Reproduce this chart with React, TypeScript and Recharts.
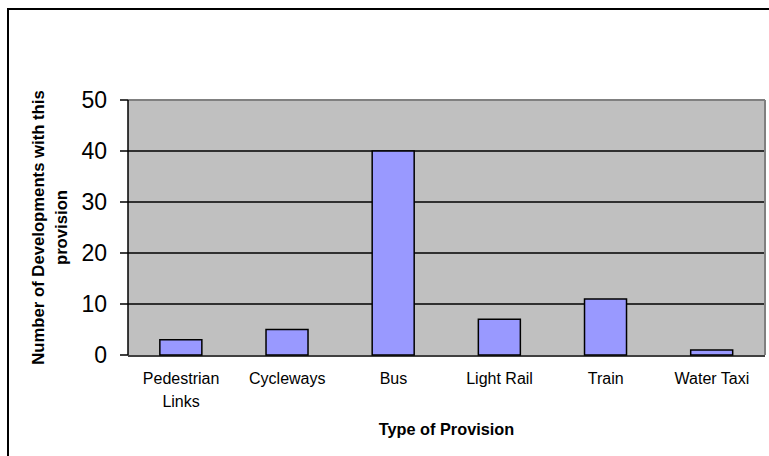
import React from 'react';
import { BarChart, Bar, XAxis, YAxis, CartesianGrid, Text } from 'recharts';

const provisionTypes = ['Pedestrian Links', 'Cycleways', 'Bus', 'Light Rail', 'Train', 'Water Taxi'];
const developmentCounts = [3, 5, 40, 7, 11, 1];
const countTicks = [0, 10, 20, 30, 40, 50];
const edgeTicks = [0, 1, 2, 3, 4, 5, 6];

const data = provisionTypes.map((name, i) => ({ name, count: developmentCounts[i] }));

const FONT = '"Liberation Sans", Arial, sans-serif';

const CategoryTick = (props: any) => {
    const { x, y, payload } = props;
    return (
        <Text
            x={x}
            y={y}
            width={96}
            textAnchor="middle"
            verticalAnchor="start"
            lineHeight={23}
            fontSize={16}
            fontFamily={FONT}
            fill="#000"
        >
            {payload.value}
        </Text>
    );
};

const YTitle = (props: any) => {
    const { viewBox } = props;
    const cy = viewBox.y + viewBox.height / 2;
    const cx = 50;
    return (
        <text
            transform={`rotate(-90, ${cx}, ${cy})`}
            x={cx}
            y={cy}
            textAnchor="middle"
            fontSize={16.7}
            fontWeight="bold"
            fontFamily={FONT}
            fill="#000"
        >
            <tspan x={cx} dy={-6}>Number of Developments with this</tspan>
            <tspan x={cx} dy={23}>provision</tspan>
        </text>
    );
};

const XTitle = (props: any) => {
    const { viewBox } = props;
    return (
        <text
            x={viewBox.x + viewBox.width / 2}
            y={viewBox.y + 80}
            textAnchor="middle"
            fontSize={16.3}
            fontWeight="bold"
            fontFamily={FONT}
            fill="#000"
        >
            Type of Provision
        </text>
    );
};

export default function App() {
    return (
        <div style={{ position: 'absolute', left: 0, top: 0, width: 769, height: 456, overflow: 'hidden', background: '#fff' }}>
            <div
                style={{
                    position: 'absolute',
                    left: 7,
                    top: 8,
                    width: 800,
                    height: 500,
                    borderLeft: '2px solid #000',
                    borderTop: '2px solid #000',
                }}
            />
            <div style={{ position: 'absolute', left: 0, top: 0 }}>
                <BarChart
                    width={769}
                    height={456}
                    data={data}
                    margin={{ top: 100, right: 4, bottom: 99, left: 8 }}
                    barCategoryGap="30%"
                >
                    <CartesianGrid
                        xAxisId="cat"
                        vertical={false}
                        horizontalValues={[10, 20, 30, 40]}
                        stroke="#000"
                        strokeWidth={1.5}
                        fill="#C0C0C0"
                        fillOpacity={1}
                    />
                    <CartesianGrid
                        xAxisId="cat"
                        horizontalValues={[50]}
                        verticalCoordinatesGenerator={({ offset }: any) => [offset.left + offset.width]}
                        stroke="#808080"
                        strokeWidth={2}
                    />
                    <XAxis
                        xAxisId="edges"
                        type="number"
                        domain={[0, 6]}
                        allowDataOverflow
                        ticks={edgeTicks}
                        height={1}
                        tick={false}
                        tickSize={6}
                        axisLine={{ stroke: '#000', strokeWidth: 1.5 }}
                        tickLine={{ stroke: '#000', strokeWidth: 1.5 }}
                    />
                    <XAxis
                        xAxisId="cat"
                        dataKey="name"
                        height={1}
                        axisLine={false}
                        tickLine={false}
                        tickSize={0}
                        tickMargin={18}
                        interval={0}
                        tick={<CategoryTick />}
                        label={<XTitle />}
                    />
                    <YAxis
                        width={120}
                        domain={[0, 50]}
                        ticks={countTicks}
                        interval={0}
                        tickSize={8}
                        tickMargin={13}
                        axisLine={{ stroke: '#000', strokeWidth: 1.5 }}
                        tickLine={{ stroke: '#000', strokeWidth: 1.5 }}
                        tick={{ fontSize: 23, fontFamily: FONT, fill: '#000' }}
                        label={<YTitle />}
                    />
                    <Bar
                        xAxisId="cat"
                        dataKey="count"
                        fill="#9999FF"
                        stroke="#000"
                        strokeWidth={1.5}
                        isAnimationActive={false}
                    />
                </BarChart>
            </div>
        </div>
    );
}
